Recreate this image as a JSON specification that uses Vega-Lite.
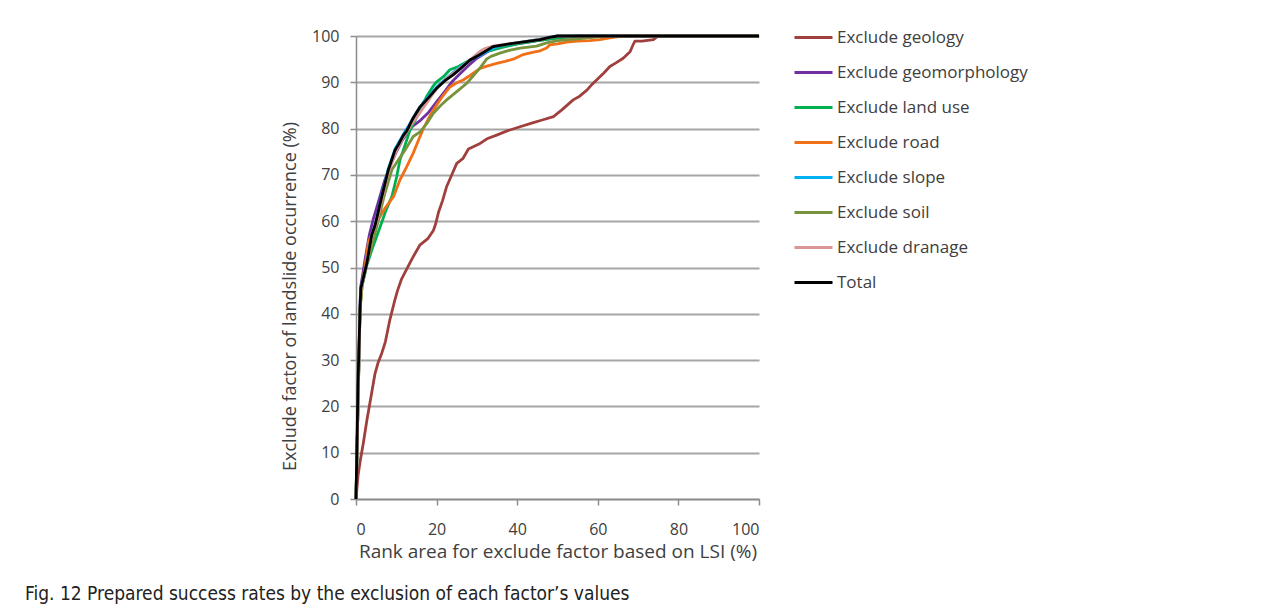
{
  "$schema": "https://vega.github.io/schema/vega-lite/v6.json",
  "autosize": "none",
  "width": 403,
  "height": 463,
  "padding": {"left": 356, "top": 36, "right": 528, "bottom": 108},
  "background": "white",
  "config": {
    "view": {"stroke": null},
    "font": "Open Sans",
    "axis": {"labelColor": "#404040", "titleColor": "#404040", "labelFontSize": 16, "titleFontSize": 18, "titleFontWeight": "normal", "domainColor": "#8c8c8c", "domainWidth": 1.5, "tickColor": "#8c8c8c", "tickWidth": 1.5, "tickSize": 6},
    "legend": {"labelColor": "#404040", "labelFontSize": 17}
  },
  "title": {"text": "Fig. 12 Prepared success rates by the exclusion of each factor’s values", "orient": "bottom", "anchor": "start", "frame": "group", "dx": -331, "offset": 24, "font": "DejaVu Sans Condensed, Roboto, sans-serif", "fontSize": 19, "fontWeight": "normal", "color": "#222222"},
  "data": {"values": [
    {"s":"Exclude geology","x":0,"y":0},{"s":"Exclude geology","x":0.5,"y":5},{"s":"Exclude geology","x":1,"y":8},{"s":"Exclude geology","x":1.8,"y":12},{"s":"Exclude geology","x":2.7,"y":17},{"s":"Exclude geology","x":3.7,"y":22},{"s":"Exclude geology","x":4.7,"y":27},{"s":"Exclude geology","x":5.5,"y":29.5},{"s":"Exclude geology","x":6.4,"y":31.5},{"s":"Exclude geology","x":7.3,"y":34},{"s":"Exclude geology","x":8.4,"y":38.7},{"s":"Exclude geology","x":9.5,"y":42.5},{"s":"Exclude geology","x":10.3,"y":45},{"s":"Exclude geology","x":11.3,"y":47.5},{"s":"Exclude geology","x":12.9,"y":50.2},{"s":"Exclude geology","x":14.3,"y":52.5},{"s":"Exclude geology","x":15.9,"y":54.9},{"s":"Exclude geology","x":17.9,"y":56.3},{"s":"Exclude geology","x":19.2,"y":58},{"s":"Exclude geology","x":19.8,"y":59.5},{"s":"Exclude geology","x":20.5,"y":62},{"s":"Exclude geology","x":21.5,"y":64.5},{"s":"Exclude geology","x":22.5,"y":67.5},{"s":"Exclude geology","x":23.5,"y":69.5},{"s":"Exclude geology","x":25,"y":72.5},{"s":"Exclude geology","x":26.5,"y":73.5},{"s":"Exclude geology","x":27.9,"y":75.6},{"s":"Exclude geology","x":30.8,"y":76.8},{"s":"Exclude geology","x":32.5,"y":77.8},{"s":"Exclude geology","x":34.9,"y":78.6},{"s":"Exclude geology","x":37.5,"y":79.5},{"s":"Exclude geology","x":40.7,"y":80.4},{"s":"Exclude geology","x":44,"y":81.3},{"s":"Exclude geology","x":46,"y":81.8},{"s":"Exclude geology","x":49,"y":82.6},{"s":"Exclude geology","x":51,"y":84},{"s":"Exclude geology","x":53.9,"y":86.2},{"s":"Exclude geology","x":55.5,"y":87},{"s":"Exclude geology","x":57.3,"y":88.3},{"s":"Exclude geology","x":58.5,"y":89.5},{"s":"Exclude geology","x":59.7,"y":90.5},{"s":"Exclude geology","x":61.5,"y":92},{"s":"Exclude geology","x":63,"y":93.4},{"s":"Exclude geology","x":64.5,"y":94.2},{"s":"Exclude geology","x":66.3,"y":95.2},{"s":"Exclude geology","x":68,"y":96.6},{"s":"Exclude geology","x":68.7,"y":98},{"s":"Exclude geology","x":69.2,"y":98.9},{"s":"Exclude geology","x":71,"y":98.9},{"s":"Exclude geology","x":73.8,"y":99.2},{"s":"Exclude geology","x":75,"y":100},{"s":"Exclude geology","x":100,"y":100},
    {"s":"Exclude geomorphology","x":0,"y":0},{"s":"Exclude geomorphology","x":1,"y":42},{"s":"Exclude geomorphology","x":1.2,"y":46},{"s":"Exclude geomorphology","x":2.3,"y":52},{"s":"Exclude geomorphology","x":3.3,"y":57},{"s":"Exclude geomorphology","x":4.3,"y":60.5},{"s":"Exclude geomorphology","x":5.5,"y":64},{"s":"Exclude geomorphology","x":7,"y":68.5},{"s":"Exclude geomorphology","x":8.5,"y":72},{"s":"Exclude geomorphology","x":10,"y":75},{"s":"Exclude geomorphology","x":11.5,"y":77.5},{"s":"Exclude geomorphology","x":12.6,"y":79},{"s":"Exclude geomorphology","x":14,"y":80.5},{"s":"Exclude geomorphology","x":16,"y":81.8},{"s":"Exclude geomorphology","x":18,"y":83.5},{"s":"Exclude geomorphology","x":20,"y":85.8},{"s":"Exclude geomorphology","x":22,"y":88},{"s":"Exclude geomorphology","x":24,"y":90.3},{"s":"Exclude geomorphology","x":26,"y":92},{"s":"Exclude geomorphology","x":28,"y":93.7},{"s":"Exclude geomorphology","x":30,"y":95.2},{"s":"Exclude geomorphology","x":33,"y":96.8},{"s":"Exclude geomorphology","x":36,"y":97.7},{"s":"Exclude geomorphology","x":40,"y":98.3},{"s":"Exclude geomorphology","x":45,"y":99},{"s":"Exclude geomorphology","x":50,"y":99.6},{"s":"Exclude geomorphology","x":55,"y":100},{"s":"Exclude geomorphology","x":100,"y":100},
    {"s":"Exclude land use","x":0,"y":0},{"s":"Exclude land use","x":1,"y":41},{"s":"Exclude land use","x":1.5,"y":46},{"s":"Exclude land use","x":2.7,"y":50.5},{"s":"Exclude land use","x":4,"y":54},{"s":"Exclude land use","x":6,"y":58.8},{"s":"Exclude land use","x":7.5,"y":62.5},{"s":"Exclude land use","x":8.9,"y":65.3},{"s":"Exclude land use","x":10.1,"y":69.6},{"s":"Exclude land use","x":10.9,"y":73.2},{"s":"Exclude land use","x":12.2,"y":76.5},{"s":"Exclude land use","x":13.4,"y":79.7},{"s":"Exclude land use","x":14.5,"y":81.5},{"s":"Exclude land use","x":16,"y":84},{"s":"Exclude land use","x":17.5,"y":86.9},{"s":"Exclude land use","x":19,"y":89},{"s":"Exclude land use","x":20,"y":90.1},{"s":"Exclude land use","x":21.7,"y":91.2},{"s":"Exclude land use","x":23.3,"y":92.7},{"s":"Exclude land use","x":25.4,"y":93.4},{"s":"Exclude land use","x":28.3,"y":94.8},{"s":"Exclude land use","x":30,"y":95.8},{"s":"Exclude land use","x":33,"y":96.8},{"s":"Exclude land use","x":36,"y":97.5},{"s":"Exclude land use","x":40,"y":98.3},{"s":"Exclude land use","x":45,"y":99},{"s":"Exclude land use","x":50,"y":99.6},{"s":"Exclude land use","x":55,"y":100},{"s":"Exclude land use","x":100,"y":100},
    {"s":"Exclude road","x":0,"y":0},{"s":"Exclude road","x":1,"y":41},{"s":"Exclude road","x":1.5,"y":46.5},{"s":"Exclude road","x":2.2,"y":50},{"s":"Exclude road","x":3.1,"y":55.5},{"s":"Exclude road","x":4.3,"y":58},{"s":"Exclude road","x":5.5,"y":60.3},{"s":"Exclude road","x":7.2,"y":62.8},{"s":"Exclude road","x":9.3,"y":65.3},{"s":"Exclude road","x":10.9,"y":68.9},{"s":"Exclude road","x":12.6,"y":71.8},{"s":"Exclude road","x":14.2,"y":74.7},{"s":"Exclude road","x":15.5,"y":77.5},{"s":"Exclude road","x":16.7,"y":80},{"s":"Exclude road","x":18.5,"y":83},{"s":"Exclude road","x":20,"y":85.1},{"s":"Exclude road","x":21.5,"y":87},{"s":"Exclude road","x":23.3,"y":89},{"s":"Exclude road","x":25,"y":89.9},{"s":"Exclude road","x":26.6,"y":90.5},{"s":"Exclude road","x":28,"y":91.3},{"s":"Exclude road","x":29.1,"y":92},{"s":"Exclude road","x":30.8,"y":93},{"s":"Exclude road","x":32.5,"y":93.5},{"s":"Exclude road","x":34.9,"y":94.1},{"s":"Exclude road","x":37,"y":94.5},{"s":"Exclude road","x":39,"y":95},{"s":"Exclude road","x":41.5,"y":96},{"s":"Exclude road","x":43.5,"y":96.4},{"s":"Exclude road","x":45.7,"y":96.8},{"s":"Exclude road","x":47.3,"y":97.4},{"s":"Exclude road","x":48.1,"y":98.1},{"s":"Exclude road","x":50,"y":98.3},{"s":"Exclude road","x":52.3,"y":98.7},{"s":"Exclude road","x":55,"y":98.9},{"s":"Exclude road","x":58,"y":99},{"s":"Exclude road","x":60.5,"y":99.2},{"s":"Exclude road","x":63,"y":99.6},{"s":"Exclude road","x":66,"y":100},{"s":"Exclude road","x":100,"y":100},
    {"s":"Exclude slope","x":0,"y":0},{"s":"Exclude slope","x":1,"y":41},{"s":"Exclude slope","x":1.2,"y":45.5},{"s":"Exclude slope","x":2.7,"y":51},{"s":"Exclude slope","x":3.9,"y":57},{"s":"Exclude slope","x":5,"y":60},{"s":"Exclude slope","x":6.4,"y":65.5},{"s":"Exclude slope","x":8,"y":71.3},{"s":"Exclude slope","x":9.7,"y":75.6},{"s":"Exclude slope","x":11.7,"y":78.7},{"s":"Exclude slope","x":13,"y":80.5},{"s":"Exclude slope","x":15,"y":83.5},{"s":"Exclude slope","x":17,"y":86},{"s":"Exclude slope","x":19,"y":88},{"s":"Exclude slope","x":21,"y":89.8},{"s":"Exclude slope","x":23,"y":91.3},{"s":"Exclude slope","x":25,"y":92.8},{"s":"Exclude slope","x":27,"y":94},{"s":"Exclude slope","x":29,"y":95.2},{"s":"Exclude slope","x":30.8,"y":95.8},{"s":"Exclude slope","x":33,"y":97},{"s":"Exclude slope","x":36,"y":97.9},{"s":"Exclude slope","x":40,"y":98.5},{"s":"Exclude slope","x":45,"y":99.2},{"s":"Exclude slope","x":48,"y":99.7},{"s":"Exclude slope","x":50,"y":100},{"s":"Exclude slope","x":100,"y":100},
    {"s":"Exclude soil","x":0,"y":0},{"s":"Exclude soil","x":1,"y":41},{"s":"Exclude soil","x":1.5,"y":46},{"s":"Exclude soil","x":2.7,"y":51},{"s":"Exclude soil","x":4,"y":55},{"s":"Exclude soil","x":5.5,"y":60},{"s":"Exclude soil","x":7,"y":65.5},{"s":"Exclude soil","x":8.9,"y":71.1},{"s":"Exclude soil","x":10.5,"y":73.2},{"s":"Exclude soil","x":12.2,"y":75.4},{"s":"Exclude soil","x":14.2,"y":78.3},{"s":"Exclude soil","x":15.9,"y":79.3},{"s":"Exclude soil","x":17.5,"y":81},{"s":"Exclude soil","x":19.2,"y":83.3},{"s":"Exclude soil","x":21,"y":85},{"s":"Exclude soil","x":22.5,"y":86.2},{"s":"Exclude soil","x":25,"y":88},{"s":"Exclude soil","x":27.5,"y":89.8},{"s":"Exclude soil","x":30,"y":92.3},{"s":"Exclude soil","x":30.8,"y":93.1},{"s":"Exclude soil","x":32.4,"y":95},{"s":"Exclude soil","x":33.5,"y":95.6},{"s":"Exclude soil","x":35.7,"y":96.3},{"s":"Exclude soil","x":38,"y":96.9},{"s":"Exclude soil","x":40.7,"y":97.4},{"s":"Exclude soil","x":44.8,"y":97.8},{"s":"Exclude soil","x":47.3,"y":98.5},{"s":"Exclude soil","x":50,"y":99},{"s":"Exclude soil","x":55,"y":99.4},{"s":"Exclude soil","x":60,"y":99.8},{"s":"Exclude soil","x":65,"y":100},{"s":"Exclude soil","x":100,"y":100},
    {"s":"Exclude dranage","x":0,"y":0},{"s":"Exclude dranage","x":1,"y":41},{"s":"Exclude dranage","x":1.3,"y":45.5},{"s":"Exclude dranage","x":2.7,"y":51},{"s":"Exclude dranage","x":4,"y":57},{"s":"Exclude dranage","x":5.2,"y":60},{"s":"Exclude dranage","x":6.5,"y":65},{"s":"Exclude dranage","x":8,"y":70.5},{"s":"Exclude dranage","x":10,"y":75.2},{"s":"Exclude dranage","x":11.7,"y":78},{"s":"Exclude dranage","x":13.5,"y":80.5},{"s":"Exclude dranage","x":15.5,"y":83},{"s":"Exclude dranage","x":17.5,"y":85.5},{"s":"Exclude dranage","x":19.5,"y":88},{"s":"Exclude dranage","x":21,"y":89.5},{"s":"Exclude dranage","x":22.5,"y":90.8},{"s":"Exclude dranage","x":24.5,"y":92.2},{"s":"Exclude dranage","x":26.6,"y":93.6},{"s":"Exclude dranage","x":28.5,"y":95},{"s":"Exclude dranage","x":30.8,"y":96.7},{"s":"Exclude dranage","x":32,"y":97.3},{"s":"Exclude dranage","x":34,"y":97.8},{"s":"Exclude dranage","x":38,"y":98.3},{"s":"Exclude dranage","x":42,"y":98.8},{"s":"Exclude dranage","x":46,"y":99.3},{"s":"Exclude dranage","x":50,"y":100},{"s":"Exclude dranage","x":100,"y":100},
    {"s":"Total","x":0,"y":0},{"s":"Total","x":0.5,"y":25},{"s":"Total","x":1,"y":41},{"s":"Total","x":1.2,"y":45.5},{"s":"Total","x":2.7,"y":51},{"s":"Total","x":3.9,"y":57},{"s":"Total","x":4.7,"y":59},{"s":"Total","x":6.4,"y":65.3},{"s":"Total","x":8,"y":71},{"s":"Total","x":9.7,"y":75.4},{"s":"Total","x":10.5,"y":76.5},{"s":"Total","x":11.7,"y":78.5},{"s":"Total","x":12.6,"y":79.5},{"s":"Total","x":14,"y":82},{"s":"Total","x":15.9,"y":84.7},{"s":"Total","x":18,"y":86.7},{"s":"Total","x":20,"y":88.7},{"s":"Total","x":22,"y":90.3},{"s":"Total","x":24.1,"y":91.6},{"s":"Total","x":26,"y":93},{"s":"Total","x":28.3,"y":94.8},{"s":"Total","x":30.8,"y":96},{"s":"Total","x":34,"y":97.7},{"s":"Total","x":38,"y":98.3},{"s":"Total","x":40.7,"y":98.6},{"s":"Total","x":45.7,"y":99.2},{"s":"Total","x":48,"y":99.7},{"s":"Total","x":50,"y":100},{"s":"Total","x":100,"y":100}
  ]},
  "mark": {"type": "line", "strokeWidth": 2.8, "strokeJoin": "round"},
  "encoding": {
    "x": {"field": "x", "type": "quantitative", "scale": {"domain": [0, 100], "nice": false},
      "axis": {"values": [0, 20, 40, 60, 80, 100], "grid": false, "title": "Rank area for exclude factor based on LSI (%)", "titleFontSize": 19, "labelPadding": 16, "titlePadding": 5}},
    "y": {"field": "y", "type": "quantitative", "scale": {"domain": [0, 100], "nice": false},
      "axis": {"values": [0, 10, 20, 30, 40, 50, 60, 70, 80, 90, 100], "grid": true, "gridColor": "#a6a6a6", "gridWidth": 2, "title": "Exclude factor of landslide occurrence (%)", "titleY": 260, "labelPadding": 11, "titlePadding": 12}},
    "color": {"field": "s", "type": "nominal",
      "scale": {"domain": ["Exclude geology", "Exclude geomorphology", "Exclude land use", "Exclude road", "Exclude slope", "Exclude soil", "Exclude dranage", "Total"],
        "range": ["#a0403e", "#7030a0", "#00b050", "#f07018", "#00b0f0", "#77933c", "#d99694", "#000000"]},
      "legend": {"title": null, "orient": "none", "legendX": 437, "legendY": -19, "symbolType": "stroke", "symbolSize": 1444, "symbolStrokeWidth": 3, "labelOffset": 3, "labelLimit": 0, "rowPadding": 6, "padding": 0}},
    "order": {"field": "x", "type": "quantitative"}
  }
}
